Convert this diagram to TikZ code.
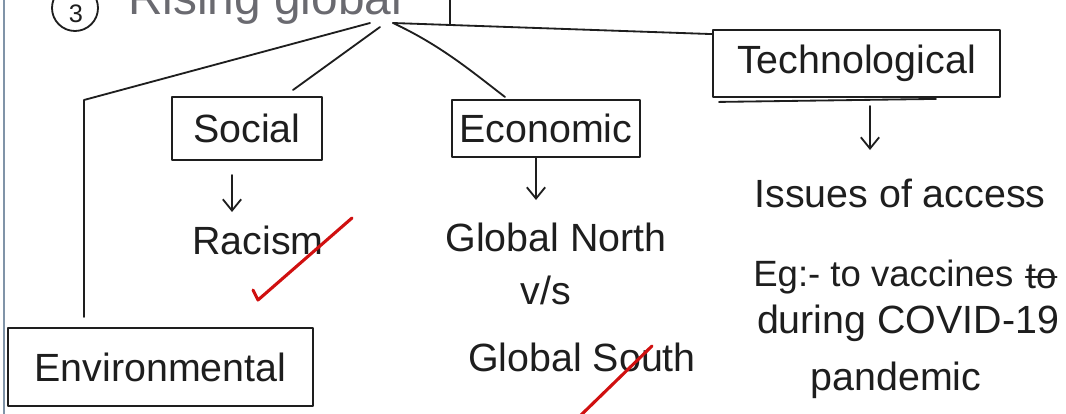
\documentclass[tikz,border=0pt]{standalone}
\usepackage{fontspec}
\setmainfont{Liberation Sans}
\usetikzlibrary{arrows.meta}
\definecolor{ink}{HTML}{1E1E1E}
\definecolor{pencil}{HTML}{6A6A70}
\definecolor{margin}{HTML}{8094A8}
\definecolor{tick}{HTML}{D01010}
\begin{document}
\begin{tikzpicture}[x=0.025cm,y=-0.025cm,line cap=round,line join=round,
  stroke/.style={draw=ink,line width=1.3pt},
  boxed/.style={stroke,rectangle,inner sep=0pt,text=ink,font=\fontsize{28}{34}\selectfont},
  hand/.style={text=ink,inner sep=0pt,font=\fontsize{28}{34}\selectfont},
  arr/.style={stroke,-{Straight Barb[length=8pt,width=13pt]}},
  redmark/.style={draw=tick,line width=2.2pt}]
\useasboundingbox (0,0) rectangle (1066,414);
\clip (0,0) rectangle (1066,414);
\fill[white] (0,0) rectangle (1066,414);

% margin rule of the page
\draw[margin,line width=2pt] (4,0) -- (4,414);

% heading (runs off the top of the page)
\node[draw=ink,line width=1.3pt,circle,minimum size=1.15cm,inner sep=0pt] (num) at (75,8) {};
\node[text=ink,inner sep=0pt,font=\fontsize{18}{22}\selectfont] (numtext) at (76,14) {3};
\node[anchor=base west,text=pencil,inner sep=0pt,
      font=\fontsize{34}{40}\selectfont] (title) at (128,14) {Rising global};

% category boxes
\node[boxed,minimum width=3.75cm,minimum height=1.575cm] (social) at (247,128.5) {Social};
\node[boxed,minimum width=4.7cm,minimum height=1.425cm] (econ) at (546,128.5) {Economic};
\node[boxed,minimum width=7.175cm,minimum height=1.675cm] (tech) at (856.5,63.5) {Technological};
\node[boxed,minimum width=7.625cm,minimum height=1.95cm] (env) at (160.5,367) {Environmental};
\draw[stroke] ([xshift=0.175cm,yshift=-0.1cm]tech.south west) -- ([xshift=-1.625cm,yshift=-0.025cm]tech.south east);

% branching from the heading
\coordinate (hubL) at (370,23);
\coordinate (hubS) at (380,27);
\coordinate (hubR) at (393,23);
\coordinate (topjoin) at (450,24);
\coordinate (topedge) at (450,0);
\coordinate (envbend) at (84,100);
\coordinate (envend) at (84,317);
\coordinate (socend) at (293,90);
\coordinate (econend) at (505,97);
\draw[stroke] (hubL) -- (envbend) -- (envend);
\draw[stroke] (hubS) -- (socend);
\draw[stroke] (hubR) .. controls (440,45) and (470,70) .. (econend);
\draw[stroke] (hubR) -- ([yshift=-0.125cm]tech.north west);
\draw[stroke] (topedge) -- (topjoin);

% details under each box
\node[hand] (racism) at (258,240) {Racism};
\node[hand] (north) at (556,237) {Global North};
\node[hand] (vs) at (546,290) {v/s};
\node[hand] (south) at (582,357) {Global South};

\node[hand] (issue1) at (900,193) {Issues of access};
\node[hand,font=\fontsize{26}{32}\selectfont,anchor=west] (issue2) at (753,277) {Eg:- to vaccines};
\node[hand,font=\fontsize{26}{32}\selectfont,anchor=west] (struck) at ([xshift=0.3cm]issue2.east) {to};
\node[hand] (issue3) at (908,323) {during COVID-19};
\node[hand] (issue4) at (896,380) {pandemic};
\draw[stroke] (struck.west) -- (struck.east);

% arrows
\coordinate (sa) at (232,175);
\coordinate (sb) at (232,212);
\coordinate (ea) at (536,158);
\coordinate (eb) at (536,200);
\coordinate (ta) at (870,106);
\coordinate (tb) at (870,150);
\draw[arr] (sa) -- (sb);
\draw[arr] (ea) -- (eb);
\draw[arr] (ta) -- (tb);

% red marks
\draw[redmark] (253,290) -- (258,300) -- (352,218);
\draw[redmark] (580,416) -- (652,346);
\end{tikzpicture}
\end{document}
